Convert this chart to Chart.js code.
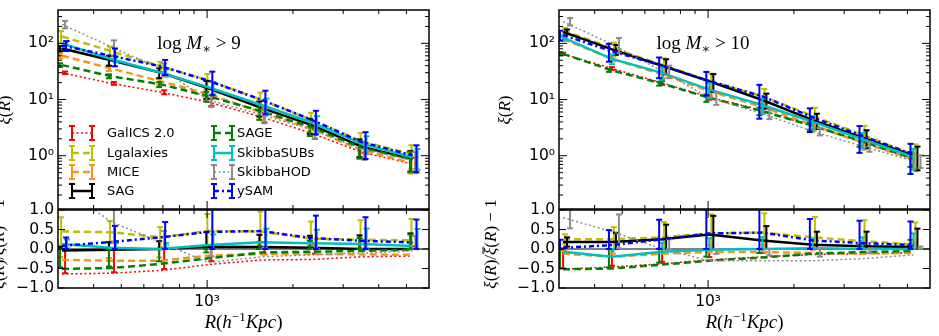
<!DOCTYPE html>
<html>
<head>
<meta charset="utf-8">
<title>xi(R) model comparison</title>
<script src="https://cdn.jsdelivr.net/npm/chart.js@4.4.1/dist/chart.umd.min.js"></script>
<style>
  html, body { margin: 0; padding: 0; background: #fff; }
  #fig { position: relative; width: 939px; height: 336px; overflow: hidden; }
  #fig canvas { position: absolute; }
</style>
</head>
<body>
<div id="fig">
  <canvas id="main9" width="440" height="212" style="left:0;top:0"></canvas>
  <canvas id="main10" width="499" height="212" style="left:440px;top:0"></canvas>
  <canvas id="ratio9" width="440" height="166" style="left:0;top:170px;z-index:2"></canvas>
  <canvas id="ratio10" width="499" height="166" style="left:440px;top:170px;z-index:2"></canvas>
</div>
<script>
// projected separations (h^-1 Kpc)
var radius = [310, 460, 690, 1010, 1550, 2330, 3480, 5250];
var models = ['GalICS 2.0', 'Lgalaxies', 'MICE', 'SAG', 'SAGE', 'SkibbaSUBs', 'SkibbaHOD', 'ySAM'];

// tick values / labels
var xMajor = [1000];
var xMinor = [400, 500, 600, 700, 800, 900, 2000, 3000, 4000, 5000];
var xTickLabels = ['10³'];
var xiTicks = [1, 10, 100];
var xiTickLabels = ['10⁰', '10¹', '10²'];
var xiMinor = [0.2, 0.3, 0.4, 0.5, 0.6, 0.7, 0.8, 0.9, 2, 3, 4, 5, 6, 7, 8, 9,
               20, 30, 40, 50, 60, 70, 80, 90, 200, 300];
var ratioTicks = [-1, -0.5, 0, 0.5, 1];
var ratioTickLabels = ['−1.0', '−0.5', '0.0', '0.5', '1.0'];

// log M* > 9 : xi(R), xi/xibar - 1, relative error
var galics9 = [30, 19.4, 13.5, 9.0, 4.9, 2.5, 1.16, 0.71];
var lgal9   = [132, 73, 39, 21.9, 9.9, 4.3, 1.8, 1.06];
var mice9   = [60, 35.7, 21, 12.5, 5.9, 3.0, 1.25, 0.74];
var sag9    = [81, 50, 30, 15.9, 7.1, 3.5, 1.45, 0.87];
var sage9   = [41, 26, 18.6, 11.4, 6.2, 3.2, 1.38, 0.85];
var subs9   = [100, 52.5, 30, 16.5, 8.0, 3.9, 1.64, 0.94];
var hod9    = [218, 87, 35, 9.8, 5.4, 2.9, 1.3, 0.83];
var ysam9   = [91, 60, 39, 21.6, 9.9, 4.35, 1.75, 1.02];

var galics9Res = [-0.64, -0.62, -0.55, -0.40, -0.28, -0.27, -0.20, -0.18];
var lgal9Res   = [0.45, 0.43, 0.30, 0.46, 0.45, 0.26, 0.24, 0.22];
var mice9Res   = [-0.28, -0.30, -0.30, -0.17, -0.13, -0.13, -0.14, -0.15];
var sag9Res    = [-0.04, -0.02, 0.0, 0.06, 0.05, 0.03, 0.0, 0.0];
var sage9Res   = [-0.51, -0.49, -0.38, -0.24, -0.09, -0.07, -0.05, -0.02];
var subs9Res   = [0.13, 0.03, 0.0, 0.10, 0.17, 0.15, 0.13, 0.08];
var hod9Res    = [1.6, 0.70, 0.17, -0.35, -0.20, -0.15, -0.10, -0.05];
var ysam9Res   = [0.08, 0.18, 0.30, 0.44, 0.46, 0.28, 0.21, 0.17];

var galics9Err = [0.05, 0.06, 0.08, 0.15, 0.20, 0.20, 0.25, 0.30];
var lgal9Err   = [0.25, 0.20, 0.20, 0.30, 0.35, 0.35, 0.40, 0.45];
var mice9Err   = [0.10, 0.10, 0.12, 0.20, 0.25, 0.25, 0.30, 0.35];
var sag9Err    = [0.10, 0.20, 0.20, 0.35, 0.30, 0.30, 0.35, 0.40];
var sage9Err   = [0.08, 0.08, 0.10, 0.20, 0.30, 0.30, 0.35, 0.40];
var subs9Err   = [0.10, 0.12, 0.15, 0.25, 0.30, 0.30, 0.35, 0.40];
var hod9Err    = [0.15, 0.30, 0.25, 0.25, 0.30, 0.30, 0.35, 0.40];
var ysam9Err   = [0.20, 0.35, 0.30, 0.45, 0.45, 0.45, 0.50, 0.50];

// log M* > 10
var galics10 = [65, 35.6, 19.8, 11.0, 6.4, 3.35, 1.72, 0.86];
var lgal10   = [170, 82.5, 41.6, 21.4, 11.4, 5.1, 2.35, 1.06];
var mice10   = [120, 52.8, 28.2, 14.1, 7.4, 3.5, 1.72, 0.86];
var sag10    = [160, 78, 40, 21, 9.8, 4.3, 2.1, 1.0];
var sage10   = [65, 33, 19.2, 10.7, 6.2, 3.4, 1.8, 0.9];
var subs10   = [126, 53, 29.8, 15, 8.0, 4.0, 1.96, 0.95];
var hod10    = [245, 96, 32, 10.7, 5.6, 2.7, 1.47, 0.81];
var ysam10   = [140, 72.6, 40, 21.4, 11.4, 4.8, 2.25, 1.05];

var galics10Res = [-0.52, -0.46, -0.38, -0.28, -0.20, -0.14, -0.12, -0.10];
var lgal10Res   = [0.25, 0.25, 0.30, 0.40, 0.42, 0.30, 0.20, 0.12];
var mice10Res   = [-0.12, -0.20, -0.12, -0.08, -0.08, -0.10, -0.12, -0.10];
var sag10Res    = [0.18, 0.18, 0.25, 0.37, 0.22, 0.11, 0.07, 0.05];
var sage10Res   = [-0.52, -0.50, -0.40, -0.30, -0.22, -0.12, -0.08, -0.05];
var subs10Res   = [-0.07, -0.20, -0.07, -0.02, 0.0, 0.02, 0.0, 0.0];
var hod10Res    = [0.80, 0.45, 0.0, -0.30, -0.30, -0.30, -0.25, -0.15];
var ysam10Res   = [0.03, 0.10, 0.25, 0.40, 0.42, 0.22, 0.15, 0.10];

var galics10Err = [0.05, 0.06, 0.08, 0.10, 0.12, 0.15, 0.15, 0.20];
var lgal10Err   = [0.10, 0.25, 0.30, 0.35, 0.35, 0.40, 0.45, 0.50];
var mice10Err   = [0.08, 0.10, 0.15, 0.20, 0.20, 0.20, 0.25, 0.30];
var sag10Err    = [0.10, 0.20, 0.30, 0.35, 0.30, 0.30, 0.35, 0.45];
var sage10Err   = [0.05, 0.06, 0.08, 0.15, 0.15, 0.15, 0.20, 0.30];
var subs10Err   = [0.10, 0.20, 0.25, 0.30, 0.30, 0.25, 0.30, 0.40];
var hod10Err    = [0.15, 0.30, 0.25, 0.25, 0.20, 0.15, 0.20, 0.25];
var ysam10Err   = [0.20, 0.35, 0.40, 0.45, 0.60, 0.45, 0.50, 0.55];

// styles
var colors = ['#ff0000', '#bfbf00', '#f7941d', '#000000', '#008000', '#00bfbf', '#8c8c8c', '#0000ff'];
var widths = [1.5, 2.5, 2.5, 2.5, 2.5, 2.5, 1.5, 2.5];
var dashes = [[2, 2.5], [7, 4], [7, 4], [], [7, 4], [], [2, 2.5], [5, 3, 2, 3]];
var jit9  = [3, -1, -2, -2, -2, 5, 3, 4];   // px shift of error bars
var jit10 = [0, 2, 1, 4, -3, 0, 7, -3];

var serif = '"Liberation Serif", "DejaVu Serif", serif';
var sans = '"DejaVu Sans", sans-serif';

function richText(ctx, parts, x, y) {
  var w = 0;
  parts.forEach(function (p) { ctx.font = p[1]; w += ctx.measureText(p[0]).width; });
  var cx = x - w / 2;
  parts.forEach(function (p) {
    ctx.font = p[1];
    var pw = ctx.measureText(p[0]).width;
    ctx.fillText(p[0], cx, y + (p[2] || 0));
    if (p[3]) {
      ctx.beginPath();
      ctx.lineWidth = 1;
      ctx.moveTo(cx + 1, y - 13);
      ctx.lineTo(cx + pw + 1, y - 13);
      ctx.stroke();
    }
    cx += pw;
  });
}

function seg(ctx, x1, y1, x2, y2) {
  ctx.beginPath();
  ctx.moveTo(x1, y1);
  ctx.lineTo(x2, y2);
  ctx.stroke();
}

function drawLegend(ctx) {
  var rows = [133, 153, 172, 191];
  var cols = [{ m0: 72, m1: 92, t: 107 }, { m0: 214, m1: 232, t: 237 }];
  models.forEach(function (name, k) {
    var c = cols[Math.floor(k / 4)], y = rows[k % 4];
    ctx.strokeStyle = colors[k];
    ctx.lineWidth = widths[k];
    ctx.setLineDash(dashes[k]);
    seg(ctx, c.m0, y, c.m1, y);
    ctx.setLineDash([]);
    ctx.lineWidth = 2;
    [c.m0, c.m1].forEach(function (x) {
      seg(ctx, x, y - 7, x, y + 7);
      seg(ctx, x - 3, y - 7, x + 3, y - 7);
      seg(ctx, x - 3, y + 7, x + 3, y + 7);
    });
    ctx.fillStyle = '#000';
    ctx.font = '13px ' + sans;
    ctx.textAlign = 'left';
    ctx.textBaseline = 'middle';
    ctx.fillText(name, c.t, y + 1);
  });
}

var deco = {
  id: 'deco',
  beforeDatasetsDraw: function (chart, args, opts) {
    if (!opts.ratio) return;
    var ctx = chart.ctx, a = chart.chartArea, py = chart.scales.y.getPixelForValue(0);
    ctx.save();
    ctx.strokeStyle = '#555';
    ctx.lineWidth = 1.5;
    seg(ctx, a.left, py, a.right, py);
    ctx.restore();
  },
  afterDatasetDraw: function (chart, args, opts) {
    var ds = chart.data.datasets[args.index];
    var ctx = chart.ctx, a = chart.chartArea, ys = chart.scales.y;
    ctx.save();
    ctx.beginPath();
    ctx.rect(a.left, a.top, a.right - a.left, a.bottom - a.top);
    ctx.clip();
    ctx.strokeStyle = ds.borderColor;
    ctx.lineWidth = 2;
    ctx.setLineDash([]);
    args.meta.data.forEach(function (pt, i) {
      var v = ds.data[i].y, e = ds.errs[i], lo, hi;
      if (opts.ratio) { lo = v - e * (1 + v); hi = v + e * (1 + v); }
      else { lo = v * (1 - e); hi = v * (1 + e); }
      var x = pt.x + ds.jit;
      var y1 = ys.getPixelForValue(Math.max(lo, 1e-3)), y2 = ys.getPixelForValue(hi);
      seg(ctx, x, y1, x, y2);
      seg(ctx, x - 3, y1, x + 3, y1);
      seg(ctx, x - 3, y2, x + 3, y2);
    });
    ctx.restore();
  },
  afterDraw: function (chart, args, opts) {
    var ctx = chart.ctx, a = chart.chartArea, xs = chart.scales.x, ys = chart.scales.y;
    ctx.save();
    ctx.strokeStyle = '#000';
    ctx.setLineDash([]);
    ctx.lineWidth = 1;
    function vt(v, len) {
      var px = xs.getPixelForValue(v);
      seg(ctx, px, a.top, px, a.top + len);
      seg(ctx, px, a.bottom, px, a.bottom - len);
    }
    function ht(v, len) {
      var py = ys.getPixelForValue(v);
      seg(ctx, a.left, py, a.left + len, py);
      seg(ctx, a.right, py, a.right - len, py);
    }
    xMajor.forEach(function (v) { vt(v, 8); });
    xMinor.forEach(function (v) { vt(v, 4); });
    if (opts.ratio) {
      ratioTicks.forEach(function (v) { ht(v, 7); });
    } else {
      xiTicks.forEach(function (v) { ht(v, 8); });
      xiMinor.forEach(function (v) { ht(v, 4); });
    }
    ctx.lineWidth = 1.5;
    ctx.strokeRect(a.left, a.top, a.right - a.left, a.bottom - a.top);

    ctx.fillStyle = '#000';
    ctx.strokeStyle = '#000';
    ctx.textAlign = 'left';
    ctx.textBaseline = 'alphabetic';
    var up = '17px ' + serif, it = 'italic 17px ' + serif;
    if (opts.ratio) {
      richText(ctx, [['R', 'italic 19px ' + serif], ['(', '19px ' + serif], ['h', 'italic 19px ' + serif],
        ['−1', '13px ' + serif, -7], ['Kpc', 'italic 19px ' + serif], [')', '19px ' + serif]],
        (a.left + a.right) / 2, 158);
      ctx.save();
      ctx.translate(opts.labelX, 74);
      ctx.rotate(-Math.PI / 2);
      richText(ctx, [['ξ', it], ['(', up], ['R', it], [')/', up], ['ξ', it, 0, true],
        ['(', up], ['R', it], [') − 1', up]], 0, 5);
      ctx.restore();
    } else {
      var t = '19px ' + serif;
      richText(ctx, [['log ', t], ['M', 'italic 19px ' + serif], ['∗', '13px ' + serif, 4],
        [' > ' + opts.mass, t]], opts.titleX, 49);
      ctx.save();
      ctx.translate(opts.labelX, 110);
      ctx.rotate(-Math.PI / 2);
      richText(ctx, [['ξ', it], ['(', up], ['R', it], [')', up]], 0, 5);
      ctx.restore();
      if (opts.legend) drawLegend(ctx);
    }
    ctx.restore();
  }
};

function makeSets(vals, errs, jit) {
  return vals.map(function (v, k) {
    return {
      label: models[k],
      data: radius.map(function (r, i) { return { x: r, y: v[i] }; }),
      errs: errs[k],
      jit: jit[k],
      borderColor: colors[k],
      borderWidth: widths[k],
      borderDash: dashes[k],
      pointRadius: 0,
      fill: false,
      tension: 0,
      order: vals.length - k
    };
  });
}

function makeChart(id, sets, opts) {
  var ratio = opts.ratio;
  var yScale = ratio ? {
    type: 'linear', min: -1, max: 1,
    afterBuildTicks: function (s) { s.ticks = ratioTicks.map(function (v) { return { value: v }; }); },
    ticks: { callback: function (v) { return ratioTickLabels[ratioTicks.indexOf(v)]; } }
  } : {
    type: 'logarithmic', min: 0.1127, max: 392,
    afterBuildTicks: function (s) { s.ticks = xiTicks.map(function (v) { return { value: v }; }); },
    ticks: { callback: function (v) { return xiTickLabels[xiTicks.indexOf(v)]; } }
  };
  yScale.grid = { display: false, drawTicks: false };
  yScale.border = { display: false };
  yScale.ticks.font = { family: sans, size: 15.5 };
  yScale.ticks.color = '#000';
  yScale.ticks.padding = 4;
  yScale.ticks.autoSkip = false;
  yScale.afterFit = function (s) { s.width = opts.axisW; s.paddingTop = 0; s.paddingBottom = 0; };

  return new Chart(document.getElementById(id), {
    type: 'line',
    data: { datasets: sets },
    options: {
      responsive: false,
      animation: false,
      devicePixelRatio: 1,
      layout: { padding: { left: 0, right: opts.padRight, top: ratio ? 40 : 10, bottom: ratio ? 0 : 3 } },
      plugins: { legend: { display: false }, tooltip: { enabled: false }, deco: opts },
      scales: {
        x: {
          type: 'logarithmic', min: 300, max: 6000, display: ratio,
          grid: { display: false, drawTicks: false },
          border: { display: false },
          afterBuildTicks: function (s) { s.ticks = xMajor.map(function (v) { return { value: v }; }); },
          afterFit: function (s) {
            if (ratio) s.height = 48;
            s.paddingLeft = 0;
            s.paddingRight = 0;
          },
          ticks: {
            autoSkip: false, maxRotation: 0, padding: 5, color: '#000',
            font: { family: sans, size: 15.5 },
            callback: function (v) { return xTickLabels[xMajor.indexOf(v)]; }
          }
        },
        y: yScale
      }
    },
    plugins: [deco]
  });
}

makeChart('main9', makeSets([galics9, lgal9, mice9, sag9, sage9, subs9, hod9, ysam9],
  [galics9Err, lgal9Err, mice9Err, sag9Err, sage9Err, subs9Err, hod9Err, ysam9Err], jit9),
  { ratio: false, axisW: 58, padRight: 11, labelX: 5, titleX: 199, mass: '9', legend: true });
makeChart('main10', makeSets([galics10, lgal10, mice10, sag10, sage10, subs10, hod10, ysam10],
  [galics10Err, lgal10Err, mice10Err, sag10Err, sage10Err, subs10Err, hod10Err, ysam10Err], jit10),
  { ratio: false, axisW: 119, padRight: 9, labelX: 65, titleX: 263, mass: '10', legend: false });
makeChart('ratio9', makeSets([galics9Res, lgal9Res, mice9Res, sag9Res, sage9Res, subs9Res, hod9Res, ysam9Res],
  [galics9Err, lgal9Err, mice9Err, sag9Err, sage9Err, subs9Err, hod9Err, ysam9Err], jit9),
  { ratio: true, axisW: 58, padRight: 11, labelX: -1 });
makeChart('ratio10', makeSets([galics10Res, lgal10Res, mice10Res, sag10Res, sage10Res, subs10Res, hod10Res, ysam10Res],
  [galics10Err, lgal10Err, mice10Err, sag10Err, sage10Err, subs10Err, hod10Err, ysam10Err], jit10),
  { ratio: true, axisW: 119, padRight: 9, labelX: 51 });
</script>
</body>
</html>
